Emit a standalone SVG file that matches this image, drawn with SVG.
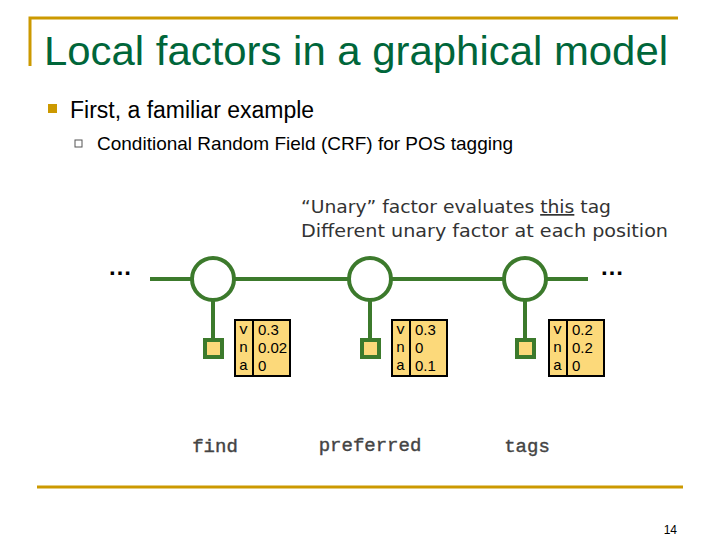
<svg xmlns="http://www.w3.org/2000/svg" width="720" height="540" viewBox="0 0 720 540">
<style>
.g{stroke:#3c7a2c;stroke-width:4;fill:none}
.c{stroke:#3c7a2c;stroke-width:4;fill:#fff}
.sq{stroke:#3c7a2c;stroke-width:4;fill:#fcd97a}
.tb{stroke:#000;stroke-width:2;fill:#fcd97a}
.m{font-family:"Liberation Mono",monospace;font-size:15px}
.s{font-family:"Liberation Sans",sans-serif;font-size:15px}
.w{font-family:"Liberation Mono",monospace;font-size:19px;fill:#444;text-anchor:middle;stroke:#444;stroke-width:0.4}
</style>
<rect width="720" height="540" fill="#fff"/>
<path d="M30 66V18H678" stroke="#cc9900" stroke-width="3" fill="none"/>
<text x="44" y="65" font-family="Liberation Sans,sans-serif" font-size="40" fill="#00663a" textLength="624" lengthAdjust="spacingAndGlyphs">Local factors in a graphical model</text>
<rect x="48" y="104" width="9" height="9" fill="#cc9900"/>
<text x="70" y="118" font-family="Liberation Sans,sans-serif" font-size="23">First, a familiar example</text>
<rect x="75" y="140" width="7" height="7" fill="none" stroke="#555" stroke-width="1"/>
<text x="97" y="150" font-family="Liberation Sans,sans-serif" font-size="19">Conditional Random Field (CRF) for POS tagging</text>
<text x="301" y="213" font-family="DejaVu Sans,sans-serif" font-size="17" fill="#333" textLength="310" lengthAdjust="spacingAndGlyphs">“Unary” factor evaluates <tspan text-decoration="underline">this</tspan> tag</text>
<text x="301" y="237" font-family="DejaVu Sans,sans-serif" font-size="17" fill="#333" textLength="367" lengthAdjust="spacingAndGlyphs">Different unary factor at each position</text>
<text x="120" y="275" font-family="Liberation Sans,sans-serif" font-size="24" font-weight="bold" text-anchor="middle">…</text>
<text x="612" y="275" font-family="Liberation Sans,sans-serif" font-size="24" font-weight="bold" text-anchor="middle">…</text>
<g id="connectors">
<line class="g" x1="150" y1="279" x2="588" y2="279"/>
<line class="g" x1="213" y1="300" x2="213" y2="340"/>
<line class="g" x1="370" y1="300" x2="370" y2="340"/>
<line class="g" x1="525" y1="300" x2="525" y2="340"/>
</g>
<g id="v1"><circle class="c" cx="213" cy="279" r="21"/></g>
<g id="v2"><circle class="c" cx="370" cy="279" r="21"/></g>
<g id="v3"><circle class="c" cx="525" cy="279" r="21"/></g>
<g id="f1"><rect class="sq" x="205" y="340" width="17" height="17"/>
<rect class="tb" x="235" y="320" width="55" height="56"/><line x1="253" y1="320" x2="253" y2="376" stroke="#000" stroke-width="2"/>
<text class="m" x="239" y="334">v</text><text class="m" x="239" y="352">n</text><text class="m" x="239" y="370">a</text>
<text class="s" x="258" y="335">0.3</text><text class="s" x="258" y="353">0.02</text><text class="s" x="258" y="371">0</text></g>
<g id="f2"><rect class="sq" x="362" y="340" width="17" height="17"/>
<rect class="tb" x="392" y="320" width="55" height="56"/><line x1="410" y1="320" x2="410" y2="376" stroke="#000" stroke-width="2"/>
<text class="m" x="396" y="334">v</text><text class="m" x="396" y="352">n</text><text class="m" x="396" y="370">a</text>
<text class="s" x="415" y="335">0.3</text><text class="s" x="415" y="353">0</text><text class="s" x="415" y="371">0.1</text></g>
<g id="f3"><rect class="sq" x="517" y="340" width="17" height="17"/>
<rect class="tb" x="549" y="320" width="55" height="56"/><line x1="567" y1="320" x2="567" y2="376" stroke="#000" stroke-width="2"/>
<text class="m" x="553" y="334">v</text><text class="m" x="553" y="352">n</text><text class="m" x="553" y="370">a</text>
<text class="s" x="572" y="335">0.2</text><text class="s" x="572" y="353">0.2</text><text class="s" x="572" y="371">0</text></g>
<text class="w" x="215" y="452">find</text>
<text class="w" x="370" y="451">preferred</text>
<text class="w" x="527" y="452">tags</text>
<line x1="37" y1="487" x2="683" y2="487" stroke="#cc9900" stroke-width="3"/>
<text x="677" y="534" font-family="Liberation Sans,sans-serif" font-size="12" text-anchor="end">14</text>
</svg>
